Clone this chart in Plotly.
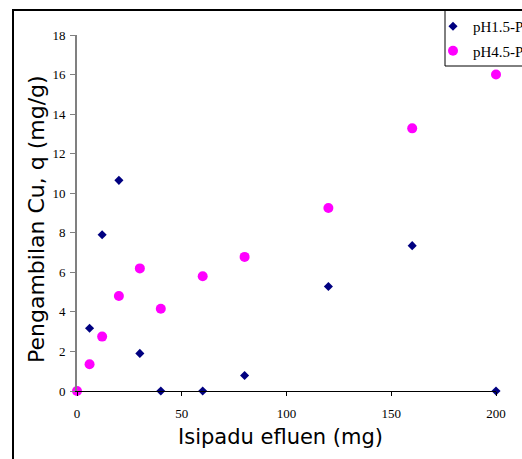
import plotly.graph_objects as go

x_p15 = [6, 12, 20, 30, 40, 60, 80, 120, 160, 200]
y_p15 = [3.17, 7.9, 10.65, 1.9, 0, 0, 0.78, 5.28, 7.35, 0]
x_p45 = [0, 6, 12, 20, 30, 40, 60, 80, 120, 160, 200]
y_p45 = [0, 1.35, 2.75, 4.8, 6.2, 4.16, 5.8, 6.78, 9.25, 13.28, 16]

name_p15 = "pH1.5-P"
name_p45 = "pH4.5-P"
x_title = "Isipadu efluen (mg)"
y_title = "Pengambilan Cu, q (mg/g)"
x_ticks = [0, 50, 100, 150, 200]
y_ticks = [0, 2, 4, 6, 8, 10, 12, 14, 16, 18]

W, H = 522, 459
L, R, T, B = 77, 26, 35, 68
pw, ph = W - L - R, H - T - B

def px(xp):
    return (xp - L) / pw

def py(yp):
    return (H - B - yp) / ph

fig = go.Figure()
fig.add_trace(go.Scatter(
    x=x_p15, y=y_p15, mode="markers", name=name_p15, legendgroup="a",
    marker=dict(symbol="diamond", size=7, color="#000080"), cliponaxis=False))
fig.add_trace(go.Scatter(
    x=x_p45, y=y_p45, mode="markers", name=name_p45, legendgroup="b",
    marker=dict(symbol="circle", size=10, color="#FF00FF"), cliponaxis=False))

fig.update_layout(
    width=W, height=H,
    margin=dict(l=L, r=R, t=T, b=B, pad=0, autoexpand=False),
    paper_bgcolor="white", plot_bgcolor="white",
    showlegend=True,
    legend=dict(x=px(433), y=py(10), xanchor="left", yanchor="top",
                bgcolor="rgba(0,0,0,0)", borderwidth=0, tracegroupgap=2,
                font=dict(family="Liberation Serif", size=15, color="black")),
    xaxis=dict(range=[0, 200], tickvals=x_ticks, showgrid=False, zeroline=False,
               showline=True, linecolor="black", linewidth=1,
               ticks="outside", ticklen=4, tickcolor="black", tickwidth=1,
               ticklabelstandoff=6,
               tickfont=dict(family="Liberation Serif", size=13, color="black")),
    yaxis=dict(range=[0, 18], tickvals=y_ticks, showgrid=False, zeroline=False,
               showline=True, linecolor="#808080", linewidth=2,
               ticks="outside", ticklen=5, tickcolor="#808080", tickwidth=1,
               ticklabelstandoff=2,
               tickfont=dict(family="Liberation Serif", size=13, color="black")),
    shapes=[
        dict(type="rect", xref="paper", yref="paper",
             x0=px(13), x1=px(560), y0=py(500), y1=py(10),
             line=dict(color="black", width=2), fillcolor="rgba(0,0,0,0)", layer="below"),
        dict(type="rect", xref="paper", yref="paper",
             x0=px(445), x1=px(560), y0=py(66), y1=py(10),
             line=dict(color="black", width=1), fillcolor="rgba(0,0,0,0)", layer="above"),
    ],
    annotations=[
        dict(text=x_title, xref="paper", yref="paper", x=px(280), y=py(437),
             xanchor="center", yanchor="middle", showarrow=False,
             font=dict(family="DejaVu Sans", size=21, color="black")),
        dict(text=y_title, xref="paper", yref="paper", x=px(37), y=py(219),
             xanchor="center", yanchor="middle", showarrow=False, textangle=-90,
             font=dict(family="DejaVu Sans", size=22, color="black")),
    ],
)

fig.write_html("out.html")
